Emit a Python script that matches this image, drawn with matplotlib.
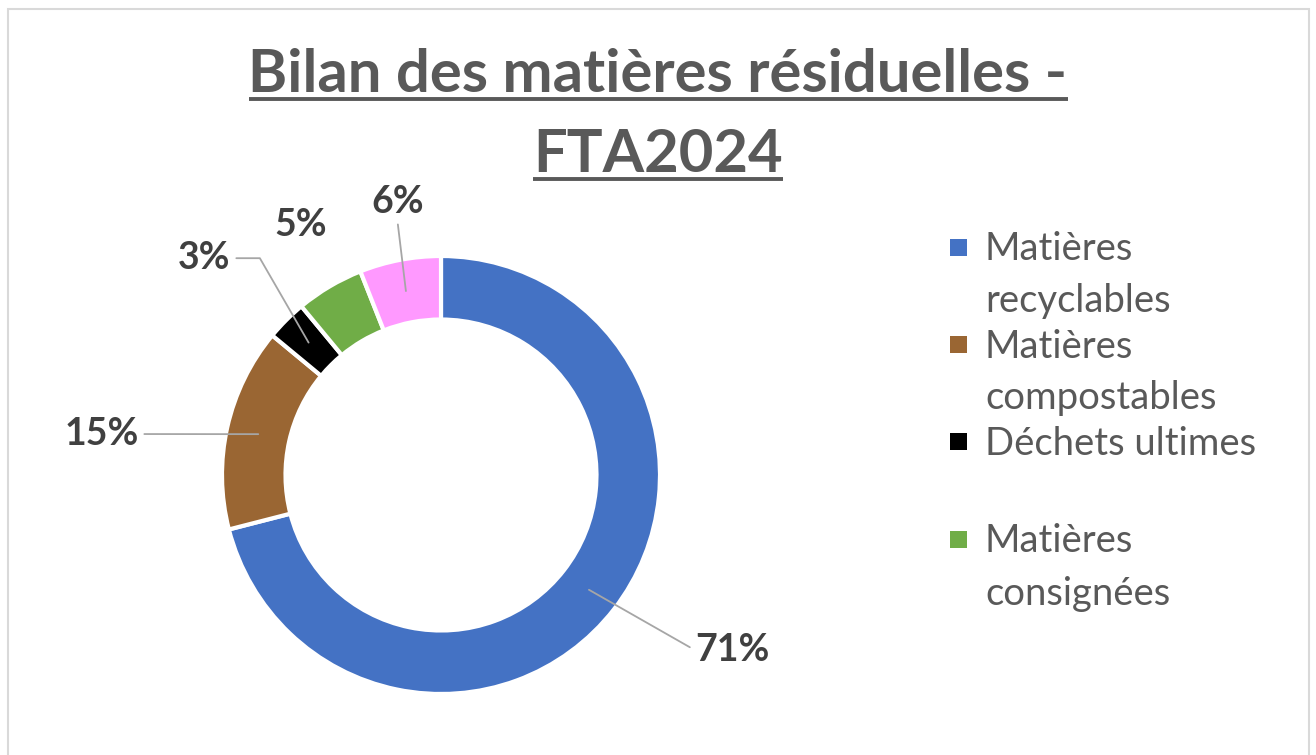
import matplotlib

matplotlib.use("Agg")
import matplotlib.pyplot as plt
from matplotlib.lines import Line2D
from matplotlib.patches import Rectangle
import numpy as np

plt.rcParams["font.family"] = ["Lato", "DejaVu Sans"]

# ---------------------------------------------------------------------------
# Data
# ---------------------------------------------------------------------------
categories = [
    "Matières recyclables",
    "Matières compostables",
    "Déchets ultimes",
    "Matières consignées",
    "Autres",
]
values = [71, 15, 3, 5, 6]
colors = ["#4472C4", "#9A6633", "#000000", "#70AD47", "#FF99FF"]
legend_labels = [
    "Matières\nrecyclables",
    "Matières\ncompostables",
    "Déchets ultimes",
    "Matières\nconsignées",
]
title_lines = ["Bilan des matières résiduelles -", "FTA2024"]

# label placement (data units, outer radius = 1) and anchoring
label_pos = [(1.16, -0.80), (-1.38, 0.187), (-0.96, 0.99), (-0.64, 1.14), (-0.20, 1.247)]
label_ha = ["left", "right", "right", "center", "center"]
label_relpos = [(0, 0.5), (1, 0.5), (1, 0.5), None, (0.5, 0)]
label_conn = ["arc3", "arc3", "angle,angleA=0,angleB=-60,rad=0", None, "arc3"]

W, H = 1316, 755
cx, cy, R = 441, 475, 219  # donut centre / radius in pixels
ring = 0.29

fig = plt.figure(figsize=(W / 100, H / 100), dpi=100)
ax = fig.add_axes([0, 0, 1, 1])

wedges, _ = ax.pie(
    values,
    colors=colors,
    startangle=90,
    counterclock=False,
    radius=1,
    wedgeprops=dict(width=ring, edgecolor="white", linewidth=3),
)
ax.set_xlim(-cx / R, (W - cx) / R)
ax.set_ylim(-(H - cy) / R, cy / R)
ax.set_aspect("auto")
ax.axis("off")

# percentage labels with leader lines
total = sum(values)
mid_r = 1 - ring / 2
for i, w in enumerate(wedges):
    ang = np.deg2rad((w.theta1 + w.theta2) / 2)
    xy = (mid_r * np.cos(ang), mid_r * np.sin(ang))
    txt = f"{values[i] / total * 100:.0f}%"
    kw = dict(ha=label_ha[i], va="center", fontsize=27, fontweight="bold", color="#404040")
    if label_conn[i] is None:
        ax.text(*label_pos[i], txt, **kw)
    else:
        ax.annotate(
            txt,
            xy=xy,
            xytext=label_pos[i],
            arrowprops=dict(
                arrowstyle="-",
                color="#A6A6A6",
                lw=1.3,
                relpos=label_relpos[i],
                connectionstyle=label_conn[i],
                shrinkA=2,
                shrinkB=0,
            ),
            **kw,
        )

# legend (equal height per entry, marker aligned with first line)
leg_x, leg_top, leg_step, line_step = 950, 247, 97.5, 52
for i, lab in enumerate(legend_labels):
    yc = leg_top + i * leg_step
    fig.patches.append(
        Rectangle(
            (leg_x / W, 1 - (yc + 8.5) / H),
            17 / W,
            17 / H,
            transform=fig.transFigure,
            facecolor=colors[i],
            edgecolor="none",
        )
    )
    for j, part in enumerate(lab.split("\n")):
        fig.text(
            985 / W,
            1 - (yc + 13 + j * line_step) / H,
            part,
            ha="left",
            va="baseline",
            fontsize=27.5,
            color="#595959",
        )

# title with underline
title_texts = []
for line, base in zip(title_lines, [92, 172]):
    t = fig.text(
        0.5,
        1 - base / H,
        line,
        ha="center",
        va="baseline",
        fontsize=43,
        fontweight="bold",
        color="#595959",
    )
    title_texts.append((t, base))

fig.canvas.draw()
renderer = fig.canvas.get_renderer()
for t, base in title_texts:
    bb = t.get_window_extent(renderer)
    yl = 1 - (base + 6.5) / H
    fig.lines.append(
        Line2D(
            [bb.x0 / W, bb.x1 / W],
            [yl, yl],
            transform=fig.transFigure,
            color="#595959",
            linewidth=2.8,
            solid_capstyle="butt",
        )
    )

# chart border
fig.patches.append(
    Rectangle(
        (8 / W, -0.05),
        1301 / W,
        1 - 9 / H + 0.05,
        transform=fig.transFigure,
        facecolor="none",
        edgecolor="#D9D9D9",
        linewidth=1.5,
    )
)

fig.savefig("out.png", dpi=100)
